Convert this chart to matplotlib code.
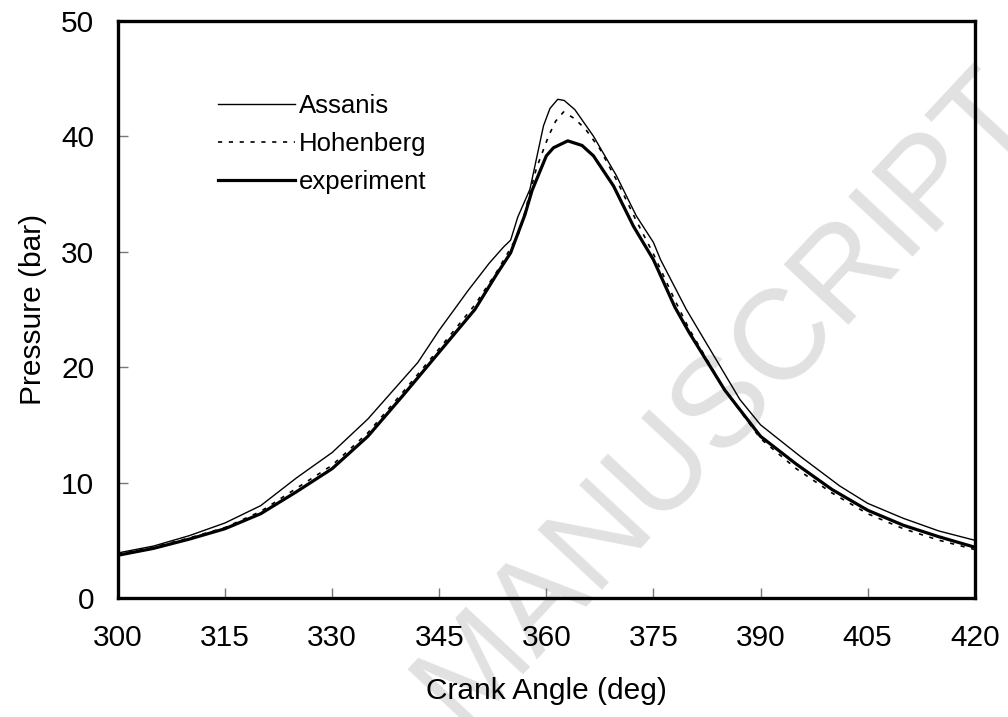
import matplotlib
matplotlib.use("Agg")
import matplotlib.pyplot as plt

plt.rcParams['font.family'] = ['Liberation Sans', 'DejaVu Sans']

# Crank angle (deg) and pressure (bar)
ang_exp = [300, 305, 310, 315, 320, 325, 330, 335, 340, 345, 350, 353, 355, 357, 358,
           360, 361, 363, 365, 366.6, 369.4, 372.2, 375, 378, 380, 385, 390, 395, 400,
           405, 410, 415, 420]
p_exp = [3.7, 4.3, 5.1, 6.0, 7.3, 9.2, 11.2, 14.0, 17.6, 21.3, 25.0, 28.0, 29.9, 33.2, 35.3,
         38.3, 39.0, 39.6, 39.2, 38.3, 35.7, 32.2, 29.3, 25.2, 23.0, 18.0, 14.0, 11.6, 9.4,
         7.6, 6.3, 5.3, 4.4]

ang_ass = [300, 305, 310, 315, 320, 325, 330, 335, 340, 342, 345, 349, 352, 354, 355,
           356, 357.7, 359.6, 360.5, 361.6, 362.5, 364, 366.6, 369.8, 372.6, 375, 376,
           379.6, 382, 387.1, 390, 395.5, 401.1, 405, 410, 415, 420]
p_ass = [3.9, 4.5, 5.4, 6.5, 8.0, 10.4, 12.6, 15.5, 19.0, 20.4, 23.2, 26.6, 29.0, 30.4, 31.0,
         33.0, 35.4, 40.9, 42.4, 43.2, 43.1, 42.3, 40.0, 36.6, 33.1, 30.8, 29.3,
         25.0, 22.5, 17.2, 15.0, 12.3, 9.7, 8.2, 6.9, 5.8, 5.0]

ang_hoh = [300, 305, 310, 315, 320, 325, 330, 335, 340, 345, 350, 353, 355, 356.3, 358.6,
           360.3, 361.3, 362.4, 363, 364, 365.5, 367.5, 370, 372.5, 375, 378, 380, 385,
           390, 395, 400, 405, 410, 415, 420]
p_hoh = [3.8, 4.4, 5.2, 6.1, 7.5, 9.5, 11.5, 14.3, 17.9, 21.6, 25.4, 28.2, 30.3, 31.8, 37.2,
         40.0, 41.3, 42.1, 41.9, 41.5, 40.6, 38.9, 36.0, 32.8, 29.8, 25.8, 23.3, 18.0,
         13.8, 11.2, 9.1, 7.3, 6.0, 5.0, 4.2]

xticks = [300, 315, 330, 345, 360, 375, 390, 405, 420]
yticks = [0, 10, 20, 30, 40, 50]

fig = plt.figure(figsize=(10.08, 7.17), dpi=100)
ax = fig.add_axes([0.117, 0.166, 0.850, 0.805])
ax.set_facecolor('none')

# faint watermark behind the axes
fig.text(1.006, 0.875, 'MANUSCRIPT', fontsize=92, color='#e1e1e1',
         rotation=47, rotation_mode='anchor', ha='right', va='center', zorder=-5)

ax.plot(ang_ass, p_ass, color='black', lw=1.0, label='Assanis')
ax.plot(ang_hoh, p_hoh, color='black', lw=1.2, linestyle=(0, (2.5, 4)), label='Hohenberg')
ax.plot(ang_exp, p_exp, color='black', lw=2.3, label='experiment')

ax.set_xlim(300, 420)
ax.set_ylim(0, 50)
ax.set_xticks(xticks)
ax.set_yticks(yticks)

for s in ax.spines.values():
    s.set_linewidth(2.4)

ax.tick_params(axis='x', direction='in', length=7, width=1, color='#777777',
               labelsize=21.5, pad=19)
ax.tick_params(axis='y', direction='in', length=7, width=1, color='#777777',
               labelsize=21.5, pad=17)

ax.set_xlabel('Crank Angle (deg)', fontsize=21.5, labelpad=18)
ax.set_ylabel('Pressure (bar)', fontsize=21.5, labelpad=10)

ax.legend(loc='upper left', bbox_to_anchor=(0.117, 0.873), frameon=False,
          fontsize=18.5, handlelength=3.0, handletextpad=0.15, labelspacing=0.55,
          borderpad=0, borderaxespad=0)

fig.savefig('out.png', dpi=100)
